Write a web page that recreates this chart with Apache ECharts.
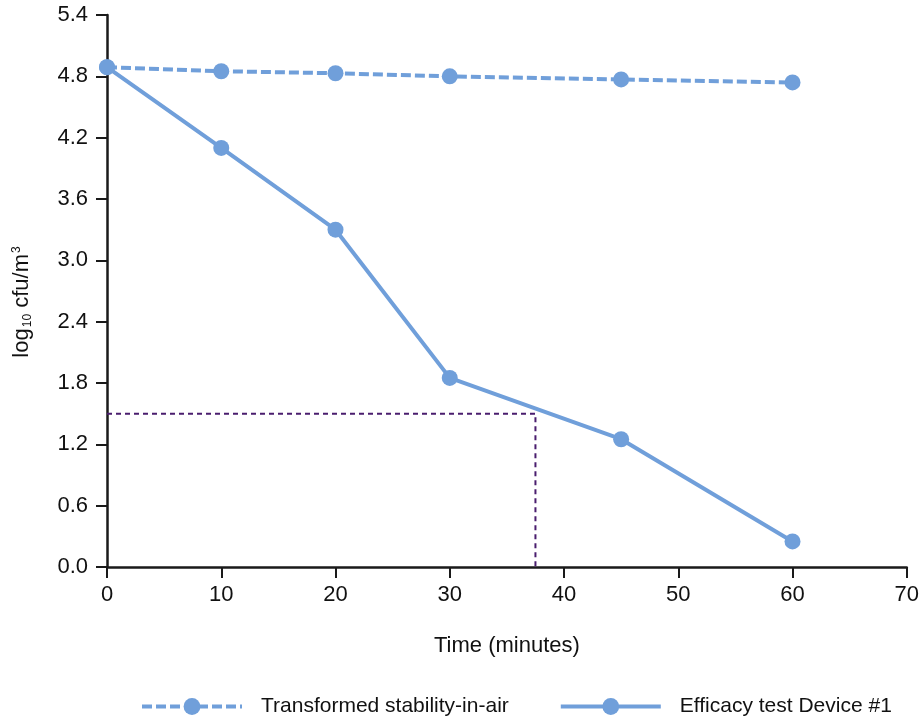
<!DOCTYPE html>
<html>
<head>
<meta charset="utf-8">
<script src="https://cdn.jsdelivr.net/npm/echarts@6/dist/echarts.min.js"></script>
<style>html,body{margin:0;padding:0;background:#fff}#c{width:922px;height:723px}</style>
</head>
<body>
<div id="c"></div>
<script>
const timeMinutes = [0, 10, 20, 30, 45, 60];
const stabilityInAir = [4.89, 4.85, 4.83, 4.80, 4.77, 4.74];
const efficacyDevice1 = [4.89, 4.10, 3.30, 1.85, 1.25, 0.25];
const thresholdX = [0, 37.5, 37.5];
const thresholdY = [1.5, 1.5, 0];
const seriesNames = ['Transformed stability-in-air', 'Efficacy test Device #1'];
const xAxisTitle = 'Time (minutes)';

const FONT = '"Liberation Sans Narrow", "Liberation Sans", Arial, sans-serif';
const BLUE = '#709fda';
const TXT = '#111';

const chart = echarts.init(document.getElementById('c'), null, {renderer: 'canvas'});
const pair = (xs, ys) => xs.map((x, i) => [x, ys[i]]);

chart.setOption({
  animation: false,
  backgroundColor: '#fff',
  grid: {left: 107, right: 13, top: 15, bottom: 156, containLabel: false},
  xAxis: {
    type: 'value', min: 0, max: 70, interval: 10,
    name: xAxisTitle, nameLocation: 'middle', nameGap: 68,
    nameTextStyle: {fontFamily: FONT, fontSize: 22, color: TXT},
    axisLine: {show: true, lineStyle: {color: '#1a1a1a', width: 2.5}},
    axisTick: {show: true, length: 11, lineStyle: {color: '#1a1a1a', width: 2}},
    axisLabel: {margin: 17, fontFamily: FONT, fontSize: 22, color: TXT},
    splitLine: {show: false}
  },
  yAxis: {
    type: 'value', min: 0, max: 5.4, interval: 0.6,
    axisLine: {show: true, lineStyle: {color: '#1a1a1a', width: 2.5}},
    axisTick: {show: true, length: 11, lineStyle: {color: '#1a1a1a', width: 2}},
    axisLabel: {margin: 19, fontFamily: FONT, fontSize: 22, color: TXT,
      formatter: v => v.toFixed(1)},
    splitLine: {show: false}
  },
  legend: {
    left: 140, top: 696, padding: 0, itemWidth: 100, itemHeight: 21, itemGap: 50,
    lineStyle: {width: 4},
    textStyle: {fontFamily: FONT, fontSize: 21, color: TXT, padding: [0, 0, 0, 14]},
    data: seriesNames
  },
  graphic: [{
    type: 'text', x: 22, y: 302, rotation: Math.PI / 2,
    style: {
      text: '{a|log}{sub|10}{a| cfu/m}{sup|3}',
      align: 'center', verticalAlign: 'middle',
      fill: TXT, fontFamily: FONT,
      rich: {
        a: {fontSize: 22, fontFamily: FONT, fill: TXT, lineHeight: 26},
        sub: {fontSize: 12, fontFamily: FONT, fill: TXT, lineHeight: 14, padding: [12, 0, 0, 1]},
        sup: {fontSize: 12, fontFamily: FONT, fill: TXT, lineHeight: 14, padding: [0, 0, 10, 1]}
      }
    }
  }],
  series: [
    {
      name: 'threshold', type: 'line', data: pair(thresholdX, thresholdY),
      showSymbol: false, symbol: 'none', silent: true, z: 1,
      lineStyle: {color: '#4a1d6e', width: 2, type: [5, 4]}
    },
    {
      name: seriesNames[0], type: 'line', data: pair(timeMinutes, stabilityInAir),
      symbol: 'circle', symbolSize: 16, z: 3,
      itemStyle: {color: BLUE},
      lineStyle: {color: BLUE, width: 4, type: [10, 4]}
    },
    {
      name: seriesNames[1], type: 'line', data: pair(timeMinutes, efficacyDevice1),
      symbol: 'circle', symbolSize: 16, z: 2,
      itemStyle: {color: BLUE},
      lineStyle: {color: BLUE, width: 4}
    }
  ]
});
</script>
</body>
</html>
